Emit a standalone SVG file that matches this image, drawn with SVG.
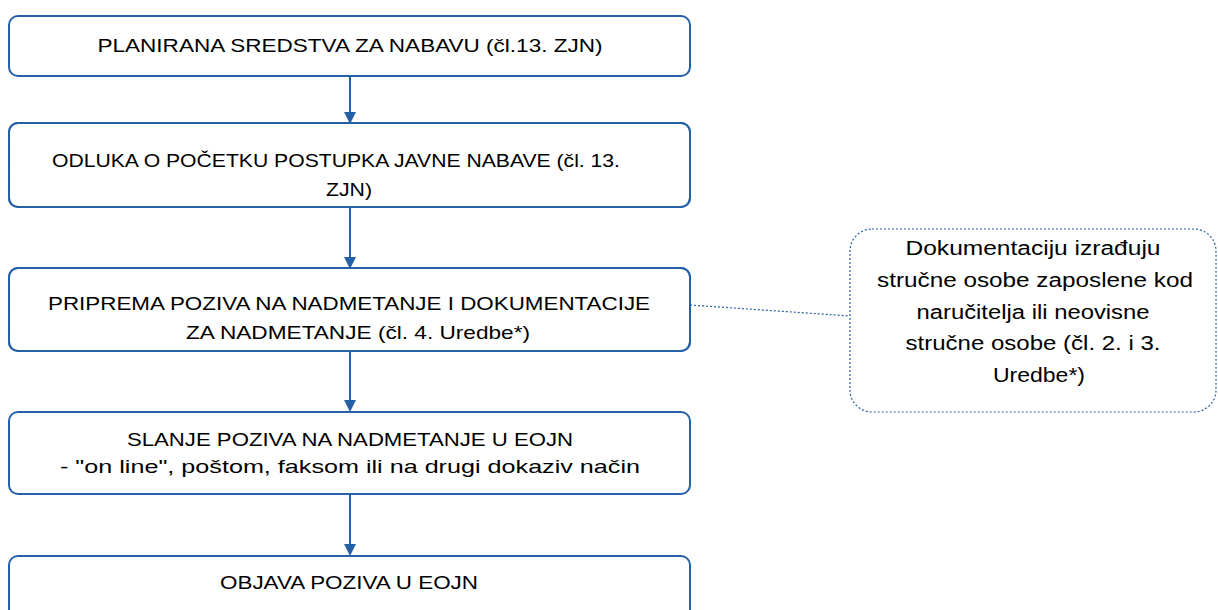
<svg xmlns="http://www.w3.org/2000/svg" width="1218" height="610" viewBox="0 0 1218 610">
<style>
.box{fill:#ffffff;stroke:#2460a7;stroke-width:2}
.t{font-family:"Liberation Sans",Arial,sans-serif;font-size:19px;fill:#000000;text-anchor:middle}
.tc{font-family:"Liberation Sans",Arial,sans-serif;font-size:20px;fill:#000000;text-anchor:middle}
.conn{stroke:#2460a7;stroke-width:2;fill:none}
.dot{stroke:#2460a7;stroke-width:1.2;stroke-dasharray:2 2;fill:none}
</style>
<defs>
<marker id="arr" markerWidth="12" markerHeight="14" refX="10" refY="6" orient="auto" markerUnits="userSpaceOnUse">
<path d="M0,0 L12,6 L0,12 Z" fill="#2460a7"/>
</marker>
<clipPath id="c2"><rect x="10" y="124" width="679" height="82"/></clipPath>
<clipPath id="c3"><rect x="10" y="269" width="679" height="81"/></clipPath>
</defs>
<rect width="1218" height="610" fill="#ffffff"/>
<g id="connectors">
<line class="conn" x1="350" y1="76" x2="350" y2="122" marker-end="url(#arr)"/>
<line class="conn" x1="350" y1="207" x2="350" y2="267" marker-end="url(#arr)"/>
<line class="conn" x1="350" y1="351" x2="350" y2="410" marker-end="url(#arr)"/>
<line class="conn" x1="350" y1="494" x2="350" y2="554" marker-end="url(#arr)"/>
<line class="dot" x1="690" y1="305" x2="850" y2="316"/>
</g>
<g id="n1">
<rect class="box" x="9" y="16" width="681" height="60" rx="9"/>
<text class="t" x="350" y="52" textLength="505" lengthAdjust="spacingAndGlyphs">PLANIRANA  SREDSTVA ZA NABAVU (čl.13. ZJN)</text>
</g>
<g id="n2">
<rect class="box" x="9" y="123" width="681" height="84" rx="9"/>
<g clip-path="url(#c2)">
<text class="t" x="336" y="167" textLength="568" lengthAdjust="spacingAndGlyphs">ODLUKA O POČETKU POSTUPKA JAVNE NABAVE (čl. 13.</text>
<text class="t" x="349" y="196" textLength="46" lengthAdjust="spacingAndGlyphs">ZJN)</text>
</g>
<rect x="9" y="123" width="681" height="84" rx="9" fill="none" stroke="#2460a7" stroke-width="2"/>
</g>
<g id="n3">
<rect class="box" x="9" y="268" width="681" height="83" rx="9"/>
<g clip-path="url(#c3)">
<text class="t" x="349" y="310" textLength="602" lengthAdjust="spacingAndGlyphs">PRIPREMA POZIVA NA NADMETANJE I DOKUMENTACIJE</text>
<text class="t" x="358" y="339" textLength="344" lengthAdjust="spacingAndGlyphs">ZA NADMETANJE (čl. 4. Uredbe*)</text>
</g>
<rect x="9" y="268" width="681" height="83" rx="9" fill="none" stroke="#2460a7" stroke-width="2"/>
</g>
<g id="n4">
<rect class="box" x="9" y="412" width="681" height="82" rx="9"/>
<text class="t" x="350" y="446" textLength="446" lengthAdjust="spacingAndGlyphs">SLANJE POZIVA NA NADMETANJE U EOJN</text>
<text class="t" x="350" y="473" textLength="580" lengthAdjust="spacingAndGlyphs">- "on line", poštom, faksom ili na drugi dokaziv način</text>
</g>
<g id="n5">
<rect class="box" x="9" y="556" width="681" height="80" rx="9"/>
<text class="t" x="349" y="589" textLength="258" lengthAdjust="spacingAndGlyphs">OBJAVA POZIVA U EOJN</text>
</g>
<g id="note">
<rect class="dot" x="850" y="229" width="366" height="183" rx="22"/>
<text class="tc" x="1033" y="255" textLength="255" lengthAdjust="spacingAndGlyphs">Dokumentaciju izrađuju</text>
<text class="tc" x="1035" y="287" textLength="316" lengthAdjust="spacingAndGlyphs">stručne osobe zaposlene kod</text>
<text class="tc" x="1033" y="319" textLength="233" lengthAdjust="spacingAndGlyphs">naručitelja ili neovisne</text>
<text class="tc" x="1033" y="350" textLength="255" lengthAdjust="spacingAndGlyphs">stručne osobe (čl. 2. i 3.</text>
<text class="tc" x="1039" y="382" textLength="92" lengthAdjust="spacingAndGlyphs">Uredbe*)</text>
</g>
</svg>
